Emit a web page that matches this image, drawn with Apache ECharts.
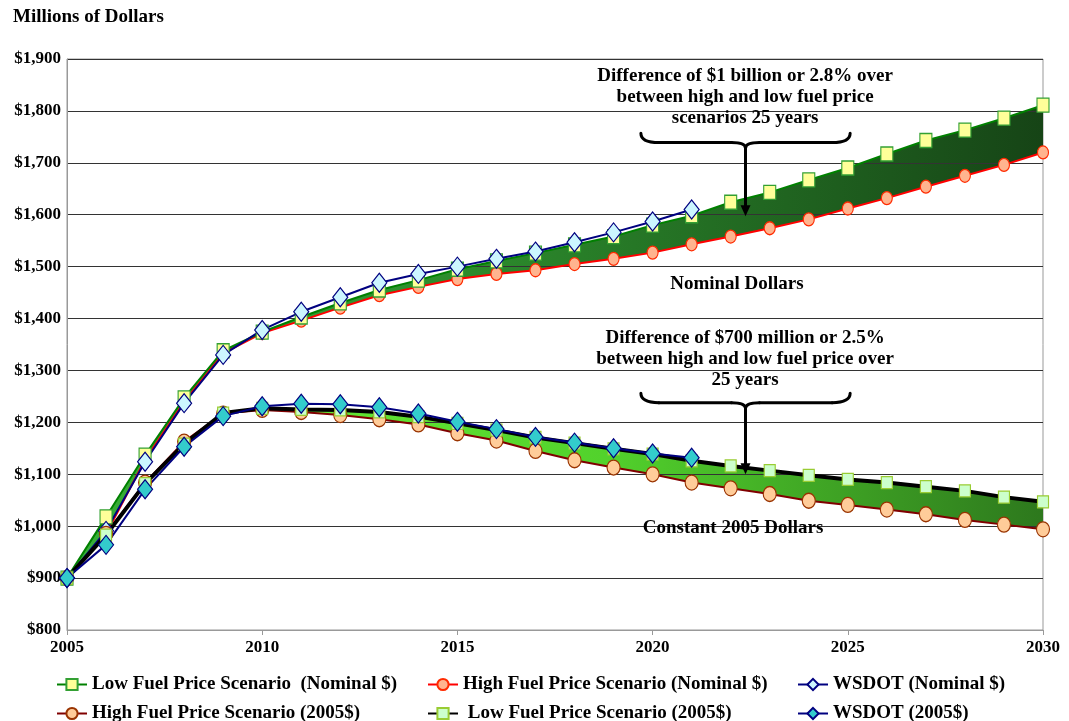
<!DOCTYPE html>
<html>
<head>
<meta charset="utf-8">
<script src="https://cdn.jsdelivr.net/npm/echarts@6/dist/echarts.min.js"></script>
<style>
html,body{margin:0;padding:0;background:#fff;}
#chart{width:1069px;height:721px;}
</style>
</head>
<body>
<div id="chart"></div>
<script>
// ---- data ----
var years = [2005,2006,2007,2008,2009,2010,2011,2012,2013,2014,2015,2016,2017,2018,2019,2020,2021,2022,2023,2024,2025,2026,2027,2028,2029,2030];
var lowNominal  = [900,1018,1137,1247,1338,1374,1403,1430,1455,1474,1495,1511,1526,1542,1558,1580,1598,1624,1643,1667,1690,1717,1743,1763,1786,1811];
var highNominal = [900,985,1128,1240,1333,1372,1396,1421,1445,1461,1476,1486,1493,1505,1515,1527,1543,1558,1574,1591,1612,1632,1654,1675,1696,1720];
var wsdotNominal = [900,991,1124,1237,1330,1378,1413,1441,1469,1486,1500,1515,1529,1547,1566,1587,1610];
var high2005 = [900,985,1084,1163,1217,1224,1220,1214,1206,1196,1179,1165,1145,1127,1113,1100,1084,1073,1062,1049,1041,1032,1023,1012,1003,994];
var low2005  = [900,983,1082,1158,1218,1227,1225,1224,1220,1211,1198,1185,1171,1160,1149,1139,1126,1116,1107,1098,1090,1084,1076,1068,1056,1047];
var wsdot2005 = [900,964,1071,1153,1212,1231,1236,1235,1229,1217,1201,1187,1172,1161,1150,1140,1132];
var yTicks = {min: 800, max: 1900, interval: 100};
var xTicks = {min: 2005, max: 2030, interval: 5};

var names = {
  lowNom: 'Low Fuel Price Scenario  (Nominal $)',
  highNom: 'High Fuel Price Scenario (Nominal $)',
  wsNom: 'WSDOT (Nominal $)',
  high05: 'High Fuel Price Scenario (2005$)',
  low05: ' Low Fuel Price Scenario (2005$)',
  ws05: 'WSDOT (2005$)'
};

function pairs(vals){ return vals.map(function(v,i){ return [years[i], v]; }); }

var FONT = 'Liberation Serif';
var chart = echarts.init(document.getElementById('chart'), null, {renderer:'canvas'});

function lineSeries(name, vals, color, width, symbol, size, fill, border, z){
  return {
    name: name, type: 'line', data: pairs(vals), z: z,
    symbol: symbol, symbolSize: size, showSymbol: true,
    lineStyle: {color: color, width: width},
    itemStyle: {color: fill, borderColor: border, borderWidth: 1.2},
    emphasis: {disabled: true}, animation: false
  };
}

// band between two series, drawn through the axes' scales
function band(name, upper, lower, stops){
  return {
    name: name, type: 'custom', z: 1, silent: true, animation: false,
    data: pairs(upper),
    encode: {x: 0, y: 1},
    renderItem: function(params, api){
      if (params.dataIndex !== 0) return null;
      var pts = [];
      for (var i = 0; i < years.length; i++) pts.push(api.coord([years[i], upper[i]]));
      for (var j = years.length - 1; j >= 0; j--) pts.push(api.coord([years[j], lower[j]]));
      var x0 = api.coord([years[0], upper[0]])[0];
      var x1 = api.coord([years[years.length-1], upper[0]])[0];
      return {type:'polygon', shape:{points: pts},
        style:{fill:{type:'linear', x:x0, y:0, x2:x1, y2:0, global:true, colorStops:stops}, stroke:null}};
    }
  };
}

function legendAt(left, top, name){
  return {data:[name], left:left, top:top, itemWidth:30, itemHeight:14, itemGap:5, padding:0,
    textStyle:{fontFamily:FONT, fontWeight:'bold', fontSize:19, color:'#000'},
    selectedMode:false};
}

var option = {
  backgroundColor:'#fff',
  animation:false,
  title:{text:'Millions of Dollars', left:13, top:8, padding:0,
    textStyle:{fontFamily:FONT, fontWeight:'bold', fontSize:19, color:'#000'}},
  grid:{left:67, right:26, top:59, bottom:91, show:true, borderColor:'#999', borderWidth:1},
  xAxis:{type:'value', min:xTicks.min, max:xTicks.max, interval:xTicks.interval, z:2,
    axisLine:{lineStyle:{color:'#999'}}, axisTick:{show:true, length:5, lineStyle:{color:'#999'}},
    splitLine:{show:false},
    axisLabel:{fontFamily:FONT, fontWeight:'bold', fontSize:17, color:'#000', margin:9,
      formatter:function(v){ return String(v); }}},
  yAxis:{type:'value', min:yTicks.min, max:yTicks.max, interval:yTicks.interval, z:2,
    axisLine:{show:true, lineStyle:{color:'#999'}}, axisTick:{show:false},
    splitLine:{lineStyle:{color:'#333', width:1}},
    axisLabel:{fontFamily:FONT, fontWeight:'bold', fontSize:17, color:'#000', margin:6,
      formatter:function(v){ return '$' + v.toLocaleString('en-US'); }}},
  legend:[
    legendAt(56, 675, names.lowNom),
    legendAt(427, 675, names.highNom),
    legendAt(797, 675, names.wsNom),
    legendAt(56, 704, names.high05),
    legendAt(427, 704, names.low05),
    legendAt(797, 704, names.ws05)
  ],
  series:[
    band('bandNom', lowNominal, highNominal, [
      {offset:0, color:'#38b038'},{offset:0.45, color:'#2b872b'},{offset:1, color:'#164416'}]),
    band('band05', low2005, high2005, [
      {offset:0, color:'#70f53a'},{offset:0.55, color:'#52d22c'},{offset:1, color:'#2d781d'}]),
    lineSeries(names.highNom, highNominal, '#ff0000', 2, 'circle', [11,13], '#ffb48f', '#ff2a00', 3),
    lineSeries(names.lowNom, lowNominal, '#008000', 2, 'rect', [12,14], '#ffff99', '#33a033', 3),
    lineSeries(names.wsNom, wsdotNominal, '#000080', 2, 'diamond', [15,19], '#ccf6ff', '#000080', 3),
    lineSeries(names.high05, high2005, '#800000', 2, 'circle', [13,15], '#ffcc99', '#993300', 3),
    lineSeries(names.low05, low2005, '#000000', 4, 'rect', [11,12], '#ccffcc', '#99cc33', 3),
    lineSeries(names.ws05, wsdot2005, '#000080', 2, 'diamond', [15,19], '#33cccc', '#000080', 3)
  ]
};
chart.setOption(option);

// ---- annotations anchored in data coordinates ----
function px(x,y){ return chart.convertToPixel({gridIndex:0}, [x,y]); }
function seg(x1,y1,x2,y2){ return {type:'line', z:100, shape:{x1:x1,y1:y1,x2:x2,y2:y2}, style:{stroke:'#000', lineWidth:3, lineCap:'round'}}; }
function curve(x1,y1,cx,cy,x2,y2){ return {type:'bezierCurve', z:100, shape:{x1:x1,y1:y1,cpx1:cx,cpy1:cy,x2:x2,y2:y2}, style:{stroke:'#000', fill:null, lineWidth:3, lineCap:'round'}}; }
function brace(x0, x1, yTop, yTip, yArrow){
  var a = px(x0, yTop), b = px(x1, yTop), t = px((x0+x1)/2, yTip), e = px((x0+x1)/2, yArrow);
  var L = a[0], R = b[0], T = a[1], C = t[0], P = t[1];
  var H = T + (P - T) * 0.62;
  return [
    curve(L,T, L,H, L+18,H),
    seg(L+18,H, C-14,H),
    curve(C-14,H, C,H, C,P),
    curve(C,P, C,H, C+14,H),
    seg(C+14,H, R-18,H),
    curve(R-18,H, R,H, R,T),
    {type:'line', shape:{x1:C, y1:P, x2:C, y2:e[1]-8}, style:{stroke:'#000', lineWidth:3}, z:100},
    {type:'polygon', shape:{points:[[C-5, e[1]-11],[C+5, e[1]-11],[C, e[1]]]}, style:{fill:'#000'}, z:100}
  ];
}
function textAt(x, y, str, size){
  var p = px(x, y);
  return {type:'text', x:p[0], y:p[1], z:100,
    style:{text:str, fill:'#000', font:'bold ' + size + 'px "' + FONT + '"', textAlign:'center', textVerticalAlign:'middle', lineHeight:21}};
}
var graphics = [];
graphics.push(textAt(2022.37, 1827, 'Difference of $1 billion or 2.8% over\nbetween high and low fuel price\nscenarios 25 years', 19));
graphics = graphics.concat(brace(2019.7, 2025.06, 1757, 1728, 1597));
graphics.push(textAt(2022.37, 1322, 'Difference of $700 million or 2.5%\nbetween high and low fuel price over\n25 years', 19));
graphics = graphics.concat(brace(2019.7, 2025.06, 1256, 1227, 1100));
graphics.push(textAt(2022.16, 1466, 'Nominal Dollars', 19));
graphics.push(textAt(2022.06, 996, 'Constant 2005 Dollars', 19));
chart.setOption({graphic: graphics});
</script>
</body>
</html>
